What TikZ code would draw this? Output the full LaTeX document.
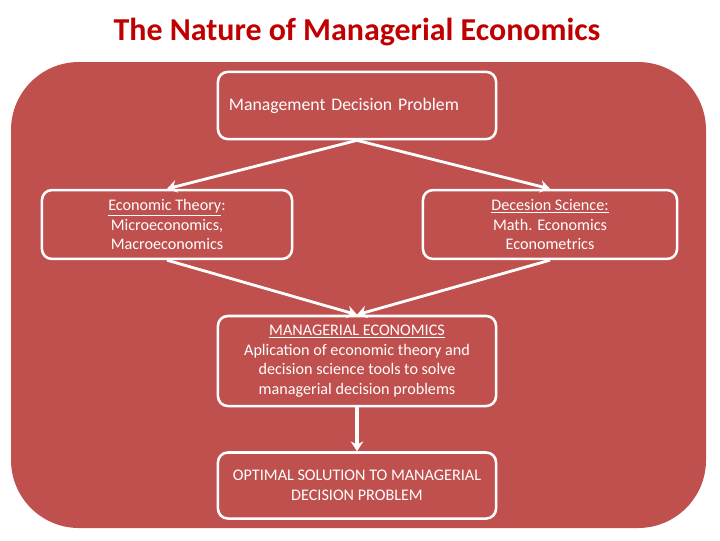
\documentclass[tikz,border=0pt]{standalone}
\usepackage{fontspec}
\setmainfont{Carlito}
\usepackage{xcolor}
\usetikzlibrary{arrows.meta, positioning}
\definecolor{mebg}{RGB}{192, 80, 77}
\definecolor{metitle}{RGB}{192, 0, 0}

\begin{document}
\begin{tikzpicture}[
  x = 0.025cm, y = -0.025cm,
  every node/.style = {font=\fontsize{11.5}{13.9}\selectfont, text=white},
  box/.style     = {draw=white, line width=1.8pt, rounded corners=7pt,
                    align=center, inner sep=0pt},
  arrow/.style   = {-{Stealth[length=7pt, width=9pt]}, white, line width=2pt}
]

% Background
\useasboundingbox (0,0) rectangle (720,540);
\fill[mebg, rounded corners=1.7cm] (11,62) rectangle (706,528);
\node[font=\fontsize{22.7}{27}\selectfont\bfseries, text=metitle] (title) at (357,32)
  {The Nature of Managerial Economics};

% Nodes
\node[box, minimum width=6.95cm, minimum height=1.68cm, text width=6.4cm,
      inner xsep=0.275cm, align=left, font=\fontsize{12.6}{15}\selectfont] (mdp) at (357,105.5)
  {Management Decision Problem};
\node[box, minimum width=6.25cm, minimum height=1.72cm] (econ) at (167,224.5)
  {\underline{Economic Theory}:\\Microeconomics,\\Macroeconomics};
\node[box, minimum width=6.35cm, minimum height=1.72cm] (dec) at (550,224.5)
  {\underline{Decesion Science:}\\Math. Economics\\Econometrics};
\node[box, minimum width=6.95cm, minimum height=2.25cm] (mgr) at (357,361)
  {\underline{MANAGERIAL ECONOMICS}\\Aplication of economic theory and\\decision science tools to solve\\managerial decision problems};
\node[box, minimum width=6.95cm, minimum height=1.65cm] (opt) at (357,485.5)
  {OPTIMAL SOLUTION TO MANAGERIAL\\DECISION PROBLEM};

% Arrows
\draw[arrow] (mdp.south) -- (econ.north);
\draw[arrow] (mdp.south) -- (dec.north);
\draw[arrow] (econ.south) -- (mgr.north);
\draw[arrow] (dec.south) -- (mgr.north);
\draw[arrow, line width=2.8pt] (mgr.south) -- (opt.north);

\end{tikzpicture}
\end{document}
